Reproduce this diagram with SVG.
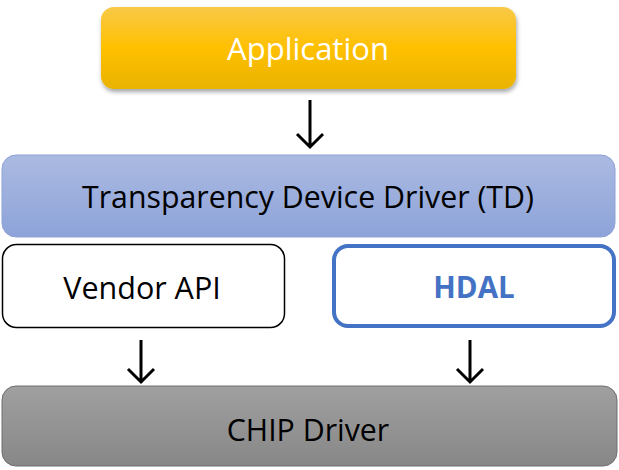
<svg xmlns="http://www.w3.org/2000/svg" width="619" height="470" viewBox="0 0 619 470">
<style>
text{font-family:"Open Sans","Liberation Sans",sans-serif;text-anchor:middle}
.conn path{fill:none;stroke:#000;stroke-width:3;stroke-linecap:butt}
</style>
<defs>
<linearGradient id="gApp" x1="0" y1="0" x2="0" y2="1"><stop offset="0" stop-color="#f8c948"/><stop offset="0.5" stop-color="#ffc000"/><stop offset="1" stop-color="#e9b300"/></linearGradient>
<linearGradient id="gTD" x1="0" y1="0" x2="0" y2="1"><stop offset="0" stop-color="#abbae1"/><stop offset="1" stop-color="#8da3d9"/></linearGradient>
<linearGradient id="gChip" x1="0" y1="0" x2="0" y2="1"><stop offset="0" stop-color="#a0a0a0"/><stop offset="1" stop-color="#878787"/></linearGradient>
<filter id="sh" x="-5%" y="-10%" width="110%" height="130%"><feDropShadow dx="1" dy="3" stdDeviation="2" flood-color="#000" flood-opacity="0.35"/></filter>
</defs>
<g id="application">
<rect x="101" y="7" width="415" height="82" rx="13" fill="url(#gApp)" filter="url(#sh)"/>
<text x="308" y="60" font-size="31" fill="#fff">Application</text>
</g>
<g id="td">
<rect x="2" y="155" width="613" height="82" rx="14" fill="url(#gTD)" stroke="#8ea2d6" stroke-width="1"/>
<text x="308" y="208" font-size="30.3" fill="#000">Transparency Device Driver (TD)</text>
</g>
<g id="vendor-api">
<rect x="2.5" y="244.5" width="282" height="83" rx="14" fill="#fff" stroke="#000" stroke-width="1.5"/>
<text x="142" y="299" font-size="30.5" fill="#000">Vendor API</text>
</g>
<g id="hdal">
<rect x="334" y="246" width="280" height="80" rx="14" fill="#fff" stroke="#4472c4" stroke-width="4"/>
<text x="474" y="298" font-size="29.5" font-weight="bold" fill="#4472c4">HDAL</text>
</g>
<g id="chip-driver">
<rect x="2" y="386" width="615" height="80" rx="14" fill="url(#gChip)" stroke="#6e6e6e" stroke-width="1"/>
<text x="308" y="441" font-size="30.3" fill="#000">CHIP Driver</text>
</g>
<g class="conn" id="connectors">
<path d="M310,100 V147 M297,134 L310,147 L323,134"/>
<path d="M141,340 V382 M128,369 L141,382 L154,369"/>
<path d="M470,340 V382 M457,369 L470,382 L483,369"/>
</g>
</svg>
